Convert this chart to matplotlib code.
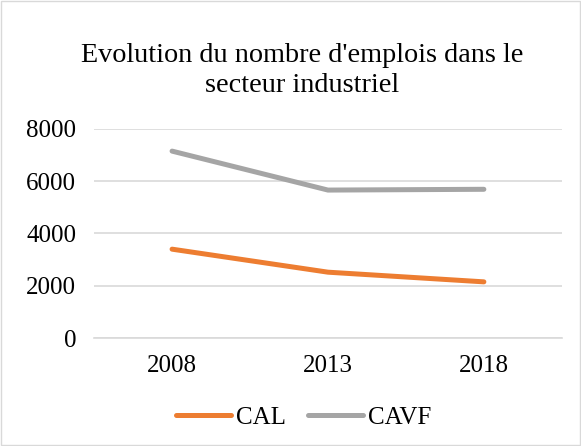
import matplotlib
matplotlib.use("Agg")
import matplotlib.pyplot as plt
from matplotlib.patches import Rectangle

# Données
annees = ["2008", "2013", "2018"]
cal = [3400, 2520, 2150]
cavf = [7150, 5660, 5690]

plt.rcParams['font.family'] = ['Liberation Serif', 'DejaVu Serif']

fig = plt.figure(figsize=(5.81, 4.46), dpi=100)
ax = fig.add_axes([0.162, 0.242, 0.805, 0.469])

x = range(len(annees))
ax.plot(x, cal, color="#ED7D31", lw=3.6, solid_capstyle="round", label="CAL")
ax.plot(x, cavf, color="#A5A5A5", lw=3.6, solid_capstyle="round", label="CAVF")

ax.set_xlim(-0.5, len(annees) - 0.5)
ax.set_ylim(0, 8000)
ax.set_yticks(range(0, 8001, 2000))
ax.set_xticks(list(x))
ax.set_xticklabels(annees)
ax.grid(axis="y", color="#D9D9D9", lw=1.2)
ax.set_axisbelow(True)
for s in ["top", "right", "left"]:
    ax.spines[s].set_visible(False)
ax.spines["bottom"].set_color("#D9D9D9")
ax.spines["bottom"].set_linewidth(1.2)
ax.tick_params(axis="y", length=0, labelsize=18, colors="black", pad=13)
ax.tick_params(axis="x", length=0, labelsize=18, colors="black", pad=12)

fig.text(0.52, 0.842, "Evolution du nombre d'emplois dans le\nsecteur industriel",
         ha="center", va="center", fontsize=20.3, linespacing=1.3)

fig.legend(loc="center", bbox_to_anchor=(0.523, 0.063), ncol=2, frameon=False,
           fontsize=18, handlelength=2.2, columnspacing=0.9, handletextpad=0.2)

fig.patches.append(Rectangle((0.002, 0.002), 0.996, 0.996, transform=fig.transFigure,
                             fill=False, edgecolor="#D9D9D9", lw=1))

fig.savefig("out.png", dpi=100)
